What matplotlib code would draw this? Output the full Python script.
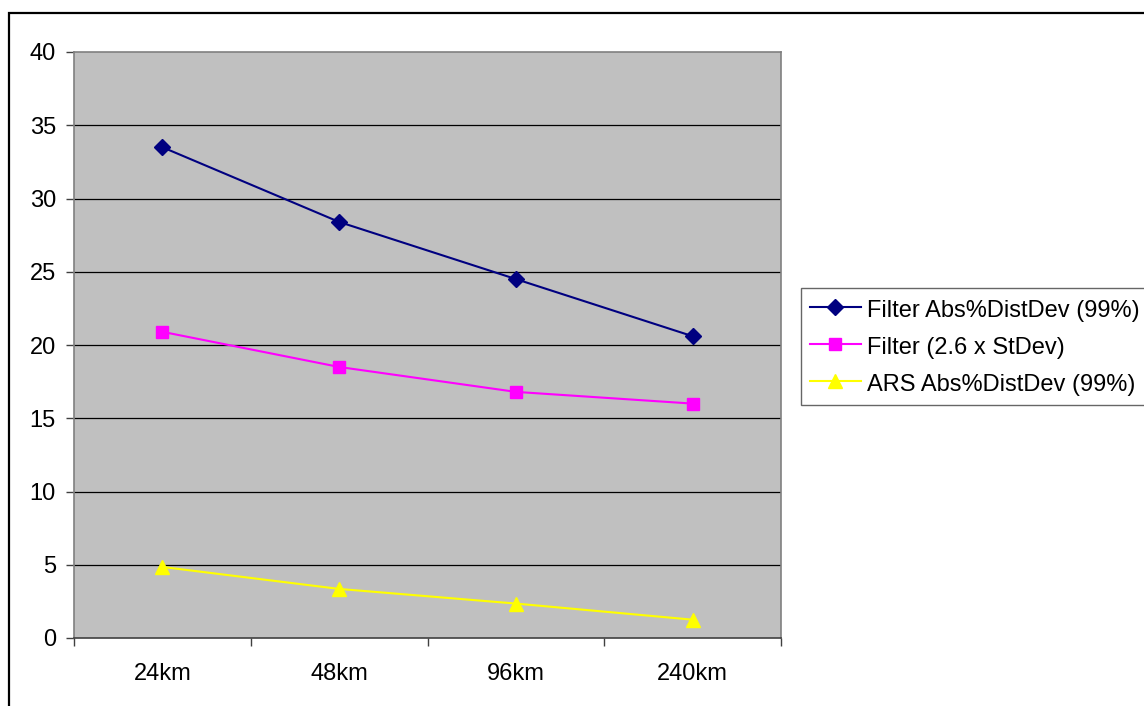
import matplotlib
matplotlib.use("Agg")
import matplotlib.pyplot as plt
from matplotlib.patches import Rectangle

plt.rcParams['font.family'] = ['Liberation Sans', 'DejaVu Sans']

distances = ['24km', '48km', '96km', '240km']
filter_abs = [33.5, 28.4, 24.5, 20.6]
filter_stdev = [20.9, 18.5, 16.8, 16.0]
ars_abs = [4.85, 3.35, 2.35, 1.25]
series_labels = ['Filter Abs%DistDev (99%)', 'Filter (2.6 x StDev)', 'ARS Abs%DistDev (99%)']
y_ticks = list(range(0, 41, 5))

fig = plt.figure(figsize=(11.44, 7.06), dpi=100)
ax = fig.add_axes([74 / 1144, 1 - 638 / 706, 707 / 1144, 586 / 706])
ax.set_facecolor('#C0C0C0')

# outer chart frame
fig.patches.append(Rectangle((8.5 / 1144, -0.1), 1.2, 1 - 13 / 706 + 0.1,
                             transform=fig.transFigure, fill=False,
                             edgecolor='black', linewidth=1.6, zorder=0))

x = list(range(len(distances)))
ax.plot(x, filter_abs, color='#000080', lw=1.5, marker='D', ms=8.5,
        label=series_labels[0], zorder=4)
ax.plot(x, filter_stdev, color='#FF00FF', lw=1.5, marker='s', ms=8,
        label=series_labels[1], zorder=4)
ax.plot(x, ars_abs, color='#FFFF00', lw=1.5, marker='^', ms=10,
        label=series_labels[2], zorder=4)

ax.set_xlim(-0.5, 3.5)
ax.set_ylim(0, 40)
ax.set_yticks(y_ticks)
ax.set_xticks(x)
ax.set_xticklabels(distances)
ax.set_xticks([-0.5, 0.5, 1.5, 2.5, 3.5], minor=True)
ax.tick_params(axis='x', which='major', length=0, pad=18, labelsize=17)
ax.tick_params(axis='x', which='minor', length=6, width=1, color='#404040')
ax.tick_params(axis='y', length=6, width=1, color='#404040', pad=7, labelsize=17)

for v in y_ticks[1:-1]:
    ax.axhline(v, color='black', lw=0.9, zorder=1)

for side in ['top', 'right', 'left']:
    ax.spines[side].set_color('#808080')
    ax.spines[side].set_linewidth(1.2)
ax.spines['bottom'].set_color('#404040')
ax.spines['bottom'].set_linewidth(1.2)

leg = fig.legend(loc='upper left', bbox_to_anchor=(801 / 1144, 1 - 288 / 706),
                 fontsize=17, frameon=True, fancybox=False, shadow=False,
                 handlelength=2.15, handletextpad=0.25, borderpad=0.38,
                 handleheight=1.2, labelspacing=0.5, borderaxespad=0)
leg.get_frame().set_edgecolor('#404040')
leg.get_frame().set_linewidth(1)

fig.savefig('out.png', dpi=100)
